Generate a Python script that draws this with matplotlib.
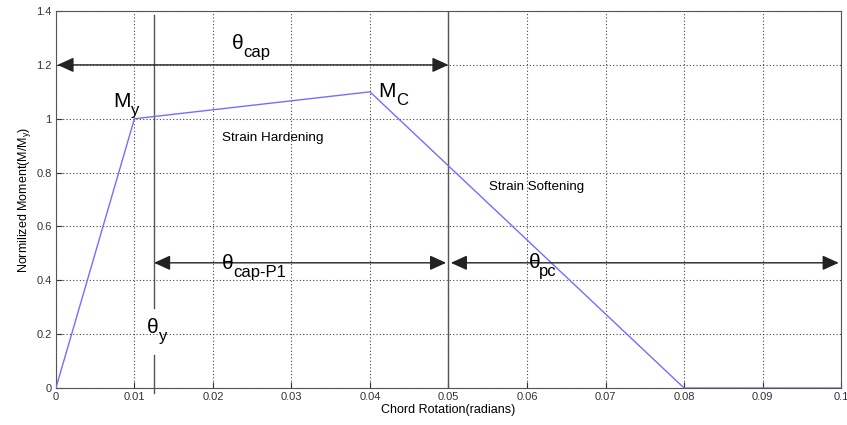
import matplotlib
matplotlib.use("Agg")
import matplotlib.pyplot as plt

plt.rcParams["font.family"] = ["Liberation Sans", "DejaVu Sans"]
plt.rcParams["mathtext.fontset"] = "custom"
plt.rcParams["mathtext.rm"] = "Liberation Sans"
plt.rcParams["mathtext.it"] = "Liberation Sans"

# backbone curve (chord rotation, normalized moment)
rotation = [0.0, 0.01, 0.04, 0.08, 0.1]
moment = [0.0, 1.0, 1.1, 0.0, 0.0]

theta_y = 0.0125
theta_cap_end = 0.05
arrow_low_y = 0.465
arrow_high_y = 1.2

x_ticks = [0, 0.01, 0.02, 0.03, 0.04, 0.05, 0.06, 0.07, 0.08, 0.09, 0.1]
x_tick_labels = ["0", "0.01", "0.02", "0.03", "0.04", "0.05", "0.06", "0.07", "0.08", "0.09", "0.1"]
y_ticks = [0, 0.2, 0.4, 0.6, 0.8, 1.0, 1.2, 1.4]
y_tick_labels = ["0", "0.2", "0.4", "0.6", "0.8", "1", "1.2", "1.4"]


def symbol(ax, x, y, main, sub, dx=8, dy=-6):
    # matlab-style label: big symbol with a lowered subscript next to it
    ax.text(x, y, main, fontsize=15, va="baseline", zorder=5)
    ax.annotate(sub, xy=(x, y), xytext=(dx, dy), textcoords="offset points",
                fontsize=12, va="baseline", zorder=5)


fig = plt.figure(figsize=(8.47, 4.25), dpi=100)
ax = fig.add_axes([0.066, 0.087, 0.927, 0.887])

ax.plot(rotation, moment, color="#7070ff", linewidth=1.0, zorder=3)

ax.set_xlim(0, 0.1)
ax.set_ylim(0, 1.4)
ax.set_xticks(x_ticks)
ax.set_xticklabels(x_tick_labels)
ax.set_yticks(y_ticks)
ax.set_yticklabels(y_tick_labels)
ax.tick_params(labelsize=8, direction="in", length=4, colors="#333333", pad=3)
ax.grid(True, linestyle=(0, (1, 2)), color="#444444", linewidth=0.8)
for side in ax.spines.values():
    side.set_color("#555555")

ax.set_xlabel("Chord Rotation(radians)", fontsize=9, labelpad=1)
ax.set_ylabel("Normilized Moment(M/M$_y$)", fontsize=9, labelpad=2)

# reference lines (theta_y line is broken around its label)
ax.plot([theta_y, theta_y], [-0.02, 0.122], color="#555555", linewidth=1.0, clip_on=False, zorder=2)
ax.plot([theta_y, theta_y], [0.297, 1.385], color="#555555", linewidth=1.0, zorder=2)
ax.axvline(theta_cap_end, color="#555555", linewidth=1.0, zorder=2)

arrow_style = dict(arrowstyle="<|-|>,head_length=0.55,head_width=0.25", color="#222222",
                   lw=1.0, mutation_scale=18, shrinkA=0, shrinkB=0)
ax.annotate("", xy=(theta_cap_end, arrow_high_y), xytext=(0.0002, arrow_high_y), arrowprops=arrow_style, zorder=4)
ax.annotate("", xy=(theta_cap_end - 0.0003, arrow_low_y), xytext=(theta_y, arrow_low_y), arrowprops=arrow_style, zorder=4)
ax.annotate("", xy=(0.0997, arrow_low_y), xytext=(theta_cap_end + 0.0003, arrow_low_y), arrowprops=arrow_style, zorder=4)

symbol(ax, 0.0224, 1.259, "θ", "cap")
symbol(ax, 0.02115, 0.442, "θ", "cap-P1")
symbol(ax, 0.0603, 0.4457, "θ", "pc", dx=7)
symbol(ax, 0.0116, 0.204, "θ", "y", dx=8.5)
symbol(ax, 0.00726, 1.0437, "M", "y", dx=13)
symbol(ax, 0.0410, 1.0808, "M", "C", dx=13)

ax.text(0.0211, 0.917, "Strain Hardening", fontsize=9.7)
ax.text(0.0552, 0.735, "Strain Softening", fontsize=9.6)

fig.savefig("out.png", dpi=100)
